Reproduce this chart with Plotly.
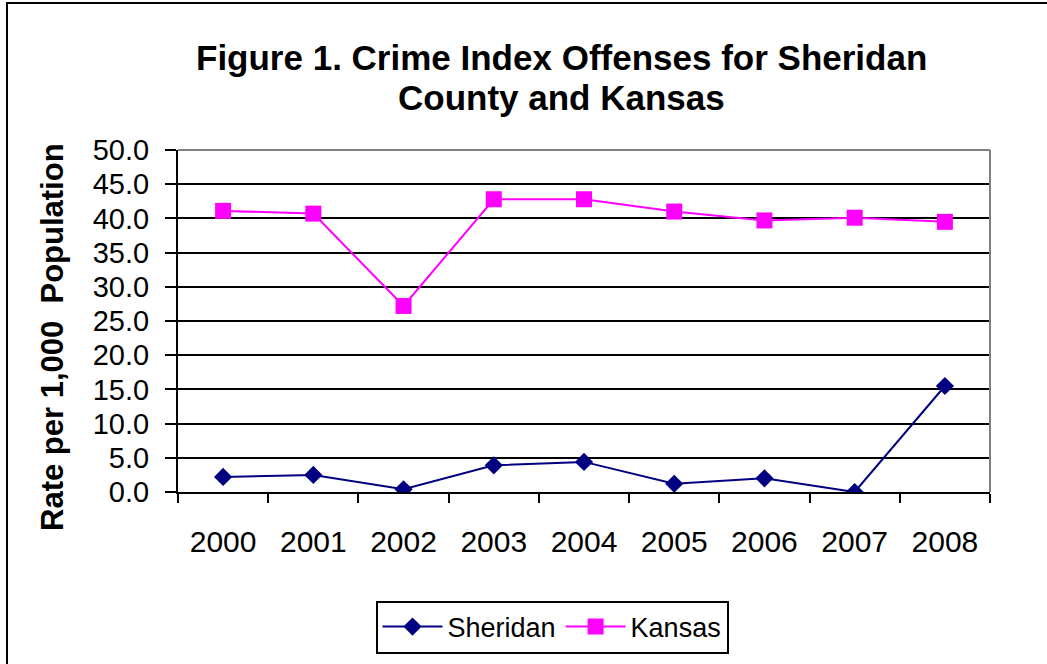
import plotly.graph_objects as go

years = ["2000", "2001", "2002", "2003", "2004", "2005", "2006", "2007", "2008"]
sheridan = [2.2, 2.5, 0.4, 3.9, 4.4, 1.2, 2.0, 0.0, 15.5]
kansas = [41.1, 40.7, 27.2, 42.8, 42.8, 41.0, 39.7, 40.1, 39.5]
title_lines = ["Figure 1. Crime Index Offenses for Sheridan", "County and Kansas"]

W, H = 1047, 664
L, R, T, B = 178, 990, 150, 492

def px(x):
    return (x - L) / (R - L)

def py(y):
    return (B - y) / (B - T)

fig = go.Figure()
fig.add_trace(go.Scatter(
    x=years, y=sheridan, name="Sheridan", mode="lines+markers",
    line=dict(color="#000080", width=2),
    marker=dict(symbol="diamond", size=14, color="#000080"),
))
fig.add_trace(go.Scatter(
    x=years, y=kansas, name="Kansas", mode="lines+markers",
    line=dict(color="#FF00FF", width=2),
    marker=dict(symbol="square", size=16, color="#FF00FF"),
))

font = "Liberation Sans, Arial, sans-serif"

fig.update_layout(
    width=W, height=H,
    margin=dict(l=L, r=W - R, t=T, b=H - B, autoexpand=False),
    paper_bgcolor="white", plot_bgcolor="white",
    font=dict(family=font, color="black"),
    showlegend=True,
    legend=dict(
        orientation="h", x=px(552), xanchor="center", y=py(627), yanchor="middle",
        bordercolor="black", borderwidth=2, font=dict(size=27, family=font),
        bgcolor="white", itemwidth=60,
    ),
    xaxis=dict(
        type="category", range=[-0.5, 8.5],
        showline=True, linecolor="black", linewidth=2,
        ticks="outside", tickson="boundaries", ticklen=9, tickcolor="black", tickwidth=1.5,
        showgrid=False, tickfont=dict(size=30, family=font),
        ticklabelstandoff=22,
    ),
    yaxis=dict(
        range=[0, 50], dtick=5, tickformat=".1f",
        showline=True, linecolor="black", linewidth=2,
        ticks="outside", ticklen=11, tickcolor="black", tickwidth=1.5,
        showgrid=True, gridcolor="black", gridwidth=1.5,
        tickfont=dict(size=29, family=font),
        ticklabelstandoff=10, zeroline=False,
    ),
)

# title lines
for txt, yc in zip(title_lines, [57, 97]):
    fig.add_annotation(
        text="<b>" + txt + "</b>", xref="paper", yref="paper",
        x=px(561), y=py(yc), xanchor="center", yanchor="middle", showarrow=False,
        font=dict(size=35, family=font, color="black"),
    )

# y-axis title placed as annotation
fig.add_annotation(
    text="<b>Rate per 1,000  Population</b>", textangle=-90,
    xref="paper", yref="paper", x=px(52), y=py(337),
    xanchor="center", yanchor="middle", showarrow=False,
    font=dict(size=31, family=font, color="black"),
)

# gray top/right plot border
fig.add_shape(type="line", xref="paper", yref="paper", x0=0, x1=1, y0=1, y1=1,
              line=dict(color="#808080", width=2))
fig.add_shape(type="line", xref="paper", yref="paper", x0=1, x1=1, y0=0, y1=1,
              line=dict(color="#808080", width=2))

# outer chart frame
fig.add_shape(type="rect", xref="paper", yref="paper",
              x0=px(7), x1=px(1070), y0=py(3), y1=py(690),
              line=dict(color="black", width=2), layer="below")

fig.write_html(
    "out.html",
    config={"displayModeBar": False},
    post_script="document.body.style.margin='0';document.body.style.overflow='hidden';",
)
